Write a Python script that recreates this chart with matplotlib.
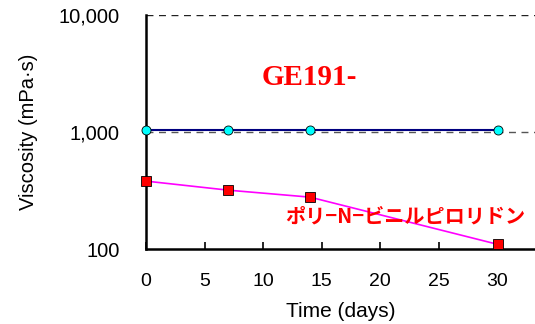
import numpy as np
import matplotlib.pyplot as plt

plt.rcParams['font.family'] = ['Liberation Sans', 'DejaVu Sans']

days = [0, 7, 14, 30]
ge191 = [1040, 1040, 1040, 1040]
pvp = [381, 319, 278, 110]

x_ticks = [0, 5, 10, 15, 20, 25, 30]
y_ticks = [100, 1000, 10000]
y_labels = ['100', '1,000', '10,000']

fig = plt.figure(figsize=(5.35, 3.24), dpi=100)
ax = fig.add_axes([0.273, 0.231, 0.727, 0.723])

ax.set_yscale('log')
ax.set_ylim(100, 10000)
ax.set_xlim(0, 33.2)

for v in [1000, 10000]:
    ax.axhline(v, color='#555555' if v == 1000 else '#222222', lw=1, ls=(0, (5, 4)), zorder=1)

ax.plot(days, ge191, color='#000080', lw=1.5, marker='o', ms=6.5,
        mfc='#00ffff', mec='#000000', mew=0.6, zorder=3, clip_on=False)
ax.plot(days, pvp, color='#ff00ff', lw=1.2, marker='s', ms=6.5,
        mfc='#ff0000', mec='#000000', mew=0.6, zorder=3, clip_on=False)

ax.set_xticks(x_ticks)
ax.set_yticks(y_ticks)
ax.set_yticklabels(y_labels)
ax.yaxis.set_minor_locator(plt.NullLocator())
ax.tick_params(axis='x', direction='in', length=5, width=1.2, pad=17, labelsize=14)
ax.tick_params(axis='y', length=0, pad=19, labelsize=14.5)

for s in ['top', 'right']:
    ax.spines[s].set_visible(False)
for s in ['left', 'bottom']:
    ax.spines[s].set_linewidth(1.8)

ax.set_xlabel('Time (days)', fontsize=15, labelpad=9)
ax.set_ylabel('Viscosity (mPa·s)', fontsize=14.5, labelpad=15)

ax.text(13.9, 2950, 'GE191-', color='#ff0000', fontsize=21, fontweight='bold',
        family='Liberation Serif', ha='center', va='center')
ax.text(22.1, 191, 'ポリ−N−ビニルピロリドン', color='#ff0000', fontsize=14.5,
        fontweight='bold', family=['Noto Sans CJK JP', 'DejaVu Sans'],
        ha='center', va='center')

fig.savefig('out.png', dpi=100)
